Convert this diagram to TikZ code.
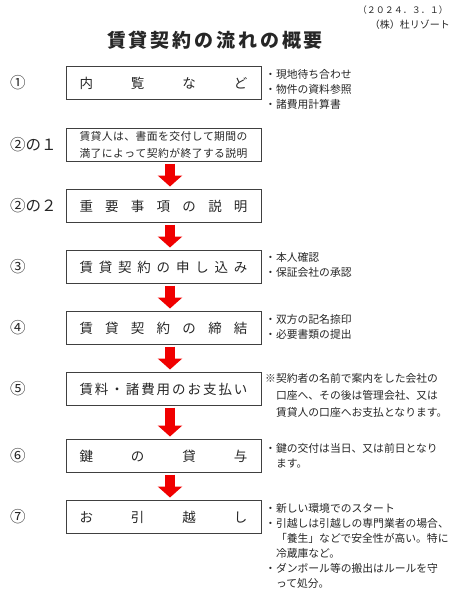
\documentclass[tikz,border=0pt]{standalone}
\usepackage{fontspec}
\setmainfont{Noto Sans CJK JP}
\usepackage{tikz}
\usetikzlibrary{arrows.meta,positioning}
\definecolor{ink}{HTML}{262626}
\definecolor{frame}{HTML}{404040}
\definecolor{flowred}{HTML}{F00000}
\newcommand{\spaced}[2][168pt]{\makebox[#1][s]{\spaceskip=0pt plus 1fil\xspaceskip=0pt plus 1fil\relax #2}}
\tikzset{
  stepbox/.style={draw=frame,line width=0.8pt,minimum width=195pt,minimum height=33pt,
                  inner sep=0pt,outer sep=0pt,align=center,text=ink,font=\fontsize{13.5}{17}\selectfont},
  steplabel/.style={anchor=west,inner sep=0pt,text=ink,font=\fontsize{15.5}{18}\selectfont},
  note/.style={anchor=north west,inner sep=0pt,align=left,text=ink,
               font=\fontsize{10.8}{15}\selectfont},
  flowarrow/.style={draw=flowred,line width=10pt,-{Triangle[width=24pt,length=11pt]},
                    shorten <=2pt,shorten >=3pt}
}
\begin{document}
\begin{tikzpicture}[x=1pt,y=1pt,node distance=28pt]
\useasboundingbox (0,0) rectangle (465,-600);
\node[anchor=east,inner sep=0pt,text=ink,font=\fontsize{9}{10}\selectfont] (date) at (448,-10) {（２０２４．３．１）};
\node[anchor=east,inner sep=0pt,text=ink,font=\fontsize{10}{11}\selectfont] (firm) at (450,-25) {（株）杜リゾート};
\node[inner sep=0pt,text=ink,font=\fontsize{19}{22}\selectfont\bfseries] (title) at (215,-40)
  {\spaced[216pt]{賃 貸 契 約 の 流 れ の 概 要}};
% flow boxes
\node[stepbox] (s1) at (163.5,-83) {\spaced{内 覧 な ど}};
\node[stepbox,below=29pt of s1,font=\fontsize{10.8}{17}\selectfont] (s21)
  {\spaced{賃 貸 人 は 、 書 面 を 交 付 し て 期 間 の}\\\spaced{満 了 に よ っ て 契 約 が 終 了 す る 説 明}};
\node[stepbox,below=of s21] (s22) {\spaced{重 要 事 項 の 説 明}};
\node[stepbox,below=of s22] (s3) {\spaced{賃 貸 契 約 の 申 し 込 み}};
\node[stepbox,below=of s3] (s4) {\spaced{賃 貸 契 約 の 締 結}};
\node[stepbox,below=of s4] (s5) {\spaced{賃 料 ・ 諸 費 用 の お 支 払 い}};
\node[stepbox,below=34pt of s5] (s6) {\spaced{鍵 の 貸 与}};
\node[stepbox,below=of s6] (s7) {\spaced{お 引 越 し}};
% step numbers
\coordinate (lm) at (10,0);
\node[steplabel] (n1) at (lm |- s1) {①};
\node[steplabel] (n21) at (lm |- s21) {②の１};
\node[steplabel] (n22) at (lm |- s22) {②の２};
\node[steplabel] (n3) at (lm |- s3) {③};
\node[steplabel] (n4) at (lm |- s4) {④};
\node[steplabel] (n5) at (lm |- s5) {⑤};
\node[steplabel] (n6) at (lm |- s6) {⑥};
\node[steplabel] (n7) at (lm |- s7) {⑦};
% notes
\node[note] (t1) at ([xshift=4pt,yshift=-2.5pt]s1.north east)
  {・現地待ち合わせ\\・物件の資料参照\\・諸費用計算書};
\node[note] (t3) at ([xshift=4pt,yshift=-2pt]s3.north east)
  {・本人確認\\・保証会社の承認};
\node[note] (t4) at ([xshift=4pt,yshift=-2.5pt]s4.north east)
  {・双方の記名捺印\\・必要書類の提出};
\node[note,font=\fontsize{10.8}{17}\selectfont] (t5) at ([xshift=4pt,yshift=-1pt]s5.north east)
  {※契約者の名前で案内をした会社の\\\quad 口座へ、その後は管理会社、又は\\\quad 賃貸人の口座へお支払となります。};
\node[note] (t6) at ([xshift=4pt,yshift=-4pt]s6.north east)
  {・鍵の交付は当日、又は前日となり\\\quad ます。};
\node[note] (t7) at ([xshift=4pt,yshift=-3pt]s7.north east)
  {・新しい環境でのスタート\\・引越しは引越しの専門業者の場合、\\\quad 「養生」などで安全性が高い。特に\\\quad 冷蔵庫など。\\・ダンボール等の搬出はルールを守\\\quad って処分。};
% arrows
\draw[flowarrow] ([xshift=6.5pt]s21.south) -- ([xshift=6.5pt]s22.north);
\draw[flowarrow] ([xshift=6.5pt]s22.south) -- ([xshift=6.5pt]s3.north);
\draw[flowarrow] ([xshift=6.5pt]s3.south) -- ([xshift=6.5pt]s4.north);
\draw[flowarrow] ([xshift=6.5pt]s4.south) -- ([xshift=6.5pt]s5.north);
\draw[flowarrow] ([xshift=6.5pt]s5.south) -- ([xshift=6.5pt]s6.north);
\draw[flowarrow] ([xshift=6.5pt]s6.south) -- ([xshift=6.5pt]s7.north);
\end{tikzpicture}
\end{document}
